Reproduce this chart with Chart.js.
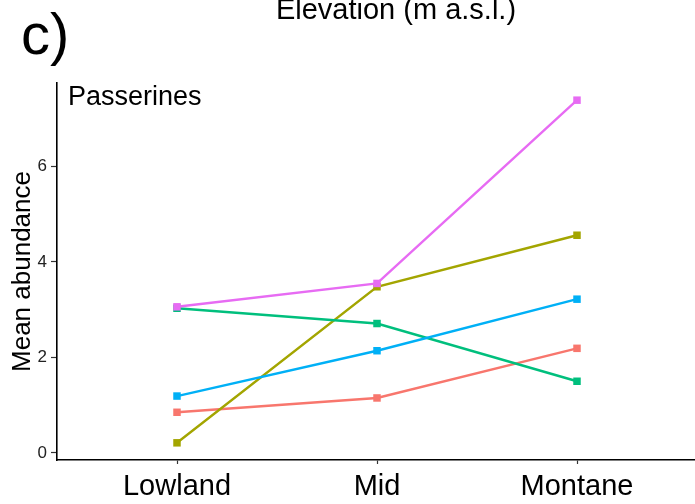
<!DOCTYPE html>
<html>
<head>
<meta charset="utf-8">
<script src="https://cdn.jsdelivr.net/npm/chart.js@4"></script>
<style>
  html, body { margin: 0; padding: 0; background: #fff; }
  #wrap { width: 695px; height: 504px; }
</style>
</head>
<body>
<div id="wrap"><canvas id="chart" width="695" height="504"></canvas></div>
<script>
var categories = ["Lowland", "Mid", "Montane"];
var yTicks = [0, 2, 4, 6];

// one line per group
var redValues = [0.85, 1.15, 2.19];
var oliveValues = [0.21, 3.48, 4.56];
var greenValues = [3.03, 2.71, 1.50];
var blueValues = [1.19, 2.14, 3.22];
var pinkValues = [3.06, 3.55, 7.39];

var seriesValues = [redValues, oliveValues, greenValues, blueValues, pinkValues];
var seriesColors = ["#F8766D", "#A3A500", "#00BF7D", "#00B0F6", "#E76BF3"];

var FONT = "Liberation Sans, Arial, sans-serif";

function toPoints(values) {
    return values.map(function(v, i) { return { x: i, y: v }; });
}

var datasets = seriesValues.map(function(values, i) {
    return {
        data: toPoints(values),
        borderColor: seriesColors[i],
        backgroundColor: seriesColors[i],
        borderWidth: 2.4,
        pointStyle: "rect",
        pointRadius: 5.3,
        pointBorderWidth: 0,
        tension: 0,
        order: seriesValues.length - i
    };
});

// panel letter, facet label and the top axis title
var labelsPlugin = {
    id: "panelText",
    afterDraw: function(chart) {
        var ctx = chart.ctx;
        ctx.save();
        ctx.fillStyle = "#000";
        ctx.textBaseline = "alphabetic";
        ctx.textAlign = "left";
        ctx.font = "58px " + FONT;
        ctx.fillText("c)", 21, 54);
        ctx.font = "27px " + FONT;
        ctx.fillText("Passerines", 68, 105);
        ctx.textAlign = "center";
        ctx.font = "29px " + FONT;
        ctx.fillText("Elevation (m a.s.l.)", 396, 19);
        ctx.restore();
    }
};

var ctx = document.getElementById("chart").getContext("2d");
var chart = new Chart(ctx, {
    type: "line",
    data: { datasets: datasets },
    plugins: [labelsPlugin],
    options: {
        responsive: false,
        animation: false,
        layout: {
            autoPadding: false,
            padding: { top: 83, right: 0, left: 0, bottom: 0 }
        },
        plugins: {
            legend: { display: false },
            tooltip: { enabled: false },
            title: { display: false }
        },
        scales: {
            x: {
                type: "linear",
                min: -0.6,
                max: 2.59,
                afterFit: function(scale) {
                    scale.height = 44;
                    scale.paddingLeft = 0;
                    scale.paddingRight = 0;
                },
                afterBuildTicks: function(scale) {
                    scale.ticks = categories.map(function(c, i) { return { value: i }; });
                },
                ticks: {
                    color: "#000",
                    padding: 6,
                    maxRotation: 0,
                    font: { family: FONT, size: 29 },
                    callback: function(v) { return categories[v]; }
                },
                grid: {
                    drawOnChartArea: false,
                    drawTicks: true,
                    tickLength: 4,
                    tickWidth: 1.2,
                    tickColor: "#333"
                },
                border: { display: true, color: "#000", width: 1.6 }
            },
            y: {
                min: -0.15,
                max: 7.75,
                afterFit: function(scale) {
                    scale.width = 57;
                    scale.paddingTop = 0;
                    scale.paddingBottom = 0;
                },
                afterBuildTicks: function(scale) {
                    scale.ticks = yTicks.map(function(v) { return { value: v }; });
                },
                ticks: {
                    color: "#222",
                    padding: 4,
                    font: { family: FONT, size: 17 }
                },
                grid: {
                    drawOnChartArea: false,
                    drawTicks: true,
                    tickLength: 6,
                    tickWidth: 1.2,
                    tickColor: "#333"
                },
                border: { display: true, color: "#000", width: 1.6 },
                title: {
                    display: true,
                    text: "Mean abundance",
                    color: "#000",
                    padding: { top: 7, bottom: 0 },
                    font: { family: FONT, size: 26 }
                }
            }
        }
    }
});
</script>
</body>
</html>
